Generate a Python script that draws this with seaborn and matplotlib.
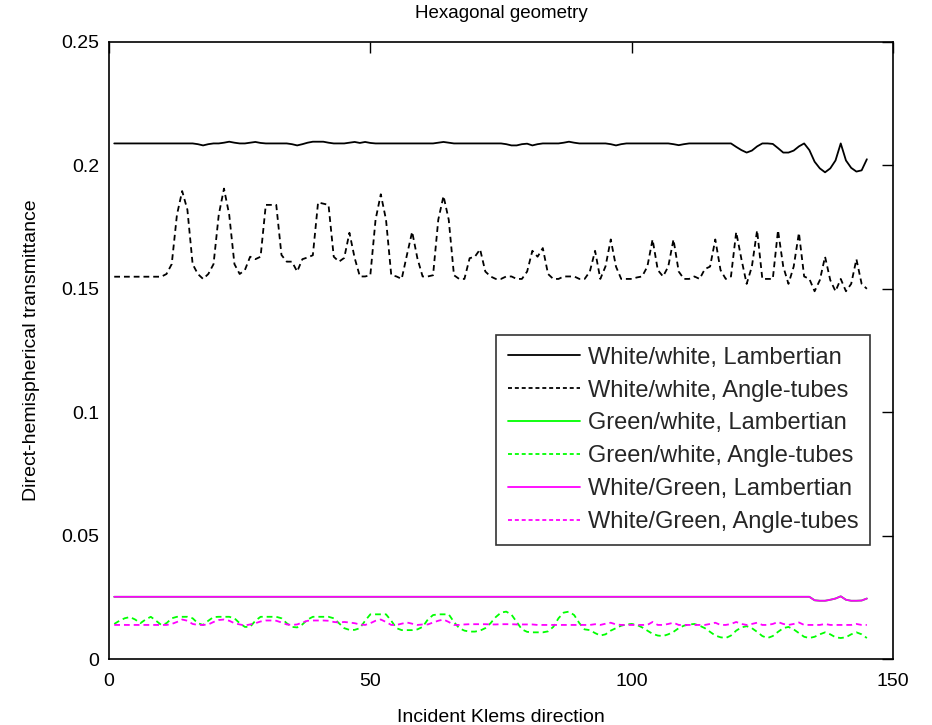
import numpy as np
import pandas as pd
import matplotlib
matplotlib.use("Agg")
import matplotlib.pyplot as plt
import seaborn as sns

# Klems incident directions 1..145
direction = list(range(1, 146))

# White/white, Lambertian
ww_lamb = [
    0.2089, 0.2089, 0.2089, 0.2089, 0.2089, 0.2089, 0.2089, 0.2089, 0.2089, 0.2089,
    0.2089, 0.2089, 0.2089, 0.2089, 0.2089, 0.2089, 0.2086, 0.2081, 0.2086, 0.2089,
    0.2089, 0.2092, 0.2096, 0.2092, 0.2089, 0.2089, 0.2092, 0.2095, 0.2091, 0.2089,
    0.2089, 0.2089, 0.2089, 0.2089, 0.2086, 0.2081, 0.2086, 0.2092, 0.2096, 0.2096,
    0.2096, 0.2092, 0.2089, 0.2089, 0.2089, 0.2092, 0.2095, 0.2091, 0.2095, 0.2091,
    0.2089, 0.2089, 0.2089, 0.2089, 0.2089, 0.2089, 0.2089, 0.2089, 0.2089, 0.2089,
    0.2089, 0.2089, 0.2092, 0.2095, 0.2092, 0.2089, 0.2089, 0.2089, 0.2089, 0.2089,
    0.2089, 0.2089, 0.2089, 0.2089, 0.2089, 0.2086, 0.2081, 0.2081, 0.2086, 0.2088,
    0.2081, 0.2086, 0.2089, 0.2089, 0.2089, 0.2089, 0.2092, 0.2096, 0.2092, 0.2089,
    0.2089, 0.2089, 0.2089, 0.2089, 0.2089, 0.2086, 0.2081, 0.2086, 0.2089, 0.2089,
    0.2089, 0.2089, 0.2089, 0.2089, 0.2089, 0.2089, 0.2089, 0.2086, 0.2082, 0.2086,
    0.2089, 0.2089, 0.2089, 0.2089, 0.2089, 0.2089, 0.2089, 0.2089, 0.2089, 0.2075,
    0.2062, 0.2052, 0.2060, 0.2077, 0.2089, 0.2089, 0.2087, 0.2070, 0.2052, 0.2052,
    0.2060, 0.2077, 0.2089, 0.2062, 0.2015, 0.1988, 0.1972, 0.1988, 0.2020, 0.2089,
    0.2020, 0.1990, 0.1975, 0.1980, 0.2025,
]

# White/white, Angle-tubes
ww_tube = [
    0.1549, 0.1549, 0.1549, 0.1549, 0.1549, 0.1549, 0.1549, 0.1549, 0.1549, 0.1549,
    0.1560, 0.1600, 0.1800, 0.1896, 0.1820, 0.1600, 0.1560, 0.1540, 0.1560, 0.1600,
    0.1800, 0.1906, 0.1800, 0.1600, 0.1560, 0.1576, 0.1630, 0.1620, 0.1630, 0.1840,
    0.1840, 0.1840, 0.1637, 0.1610, 0.1610, 0.1570, 0.1620, 0.1627, 0.1636, 0.1850,
    0.1845, 0.1840, 0.1630, 0.1610, 0.1625, 0.1727, 0.1625, 0.1550, 0.1550, 0.1555,
    0.1780, 0.1883, 0.1780, 0.1556, 0.1550, 0.1540, 0.1637, 0.1731, 0.1624, 0.1550,
    0.1550, 0.1555, 0.1780, 0.1876, 0.1780, 0.1555, 0.1540, 0.1540, 0.1624, 0.1630,
    0.1660, 0.1570, 0.1550, 0.1540, 0.1540, 0.1550, 0.1550, 0.1540, 0.1540, 0.1570,
    0.1654, 0.1630, 0.1665, 0.1560, 0.1540, 0.1540, 0.1550, 0.1550, 0.1550, 0.1540,
    0.1540, 0.1570, 0.1654, 0.1540, 0.1591, 0.1700, 0.1590, 0.1540, 0.1540, 0.1540,
    0.1546, 0.1550, 0.1590, 0.1700, 0.1576, 0.1550, 0.1590, 0.1700, 0.1570, 0.1540,
    0.1540, 0.1550, 0.1540, 0.1580, 0.1590, 0.1700, 0.1576, 0.1540, 0.1550, 0.1730,
    0.1620, 0.1520, 0.1590, 0.1737, 0.1540, 0.1540, 0.1540, 0.1737, 0.1590, 0.1520,
    0.1590, 0.1727, 0.1550, 0.1540, 0.1490, 0.1535, 0.1630, 0.1535, 0.1490, 0.1540,
    0.1490, 0.1520, 0.1620, 0.1520, 0.1500,
]

# White/Green, Lambertian
wg_lamb = [0.0252] * 133 + [
    0.0252, 0.0238, 0.0236, 0.0236, 0.0240, 0.0245, 0.0254,
    0.0240, 0.0236, 0.0236, 0.0237, 0.0245,
]

# Green/white, Lambertian (coincides with White/Green, Lambertian)
gw_lamb = list(wg_lamb)

# Green/white, Angle-tubes
gw_tube = [
    0.0142, 0.0155, 0.0165, 0.0170, 0.0160, 0.0145, 0.0160, 0.0171, 0.0155, 0.0138,
    0.0145, 0.0165, 0.0171, 0.0171, 0.0171, 0.0165, 0.0145, 0.0138, 0.0155, 0.0170,
    0.0171, 0.0171, 0.0171, 0.0165, 0.0145, 0.0130, 0.0130, 0.0155, 0.0171, 0.0171,
    0.0171, 0.0171, 0.0165, 0.0145, 0.0130, 0.0128, 0.0140, 0.0160, 0.0171, 0.0171,
    0.0171, 0.0171, 0.0165, 0.0145, 0.0125, 0.0118, 0.0118, 0.0125, 0.0155, 0.0181,
    0.0181, 0.0181, 0.0181, 0.0155, 0.0125, 0.0117, 0.0117, 0.0117, 0.0120, 0.0130,
    0.0160, 0.0178, 0.0181, 0.0181, 0.0181, 0.0150, 0.0125, 0.0115, 0.0111, 0.0111,
    0.0115, 0.0125, 0.0145, 0.0170, 0.0188, 0.0192, 0.0180, 0.0150, 0.0120, 0.0110,
    0.0108, 0.0108, 0.0108, 0.0112, 0.0130, 0.0165, 0.0188, 0.0192, 0.0178, 0.0145,
    0.0120, 0.0117, 0.0105, 0.0095, 0.0100, 0.0115, 0.0125, 0.0135, 0.0140, 0.0142,
    0.0138, 0.0128, 0.0115, 0.0102, 0.0095, 0.0093, 0.0100, 0.0110, 0.0125, 0.0135,
    0.0140, 0.0142, 0.0135, 0.0125, 0.0110, 0.0095, 0.0088, 0.0085, 0.0095, 0.0115,
    0.0128, 0.0133, 0.0125, 0.0110, 0.0093, 0.0085, 0.0093, 0.0110, 0.0125, 0.0130,
    0.0120, 0.0105, 0.0090, 0.0085, 0.0090, 0.0100, 0.0108, 0.0100, 0.0088, 0.0085,
    0.0088, 0.0100, 0.0108, 0.0100, 0.0085,
]

# White/Green, Angle-tubes
wg_tube = [
    0.0138, 0.0138, 0.0138, 0.0138, 0.0138, 0.0138, 0.0138, 0.0138, 0.0138, 0.0138,
    0.0138, 0.0142, 0.0150, 0.0160, 0.0155, 0.0142, 0.0138, 0.0138, 0.0140, 0.0150,
    0.0158, 0.0160, 0.0155, 0.0145, 0.0140, 0.0136, 0.0140, 0.0145, 0.0152, 0.0156,
    0.0156, 0.0155, 0.0148, 0.0140, 0.0138, 0.0140, 0.0148, 0.0155, 0.0156, 0.0156,
    0.0156, 0.0155, 0.0150, 0.0148, 0.0150, 0.0148, 0.0145, 0.0140, 0.0138, 0.0145,
    0.0155, 0.0160, 0.0150, 0.0138, 0.0138, 0.0143, 0.0148, 0.0143, 0.0138, 0.0140,
    0.0140, 0.0148, 0.0155, 0.0160, 0.0150, 0.0138, 0.0138, 0.0140, 0.0141, 0.0141,
    0.0141, 0.0141, 0.0140, 0.0140, 0.0141, 0.0141, 0.0141, 0.0140, 0.0140, 0.0140,
    0.0140, 0.0138, 0.0138, 0.0138, 0.0138, 0.0138, 0.0138, 0.0138, 0.0138, 0.0138,
    0.0138, 0.0138, 0.0141, 0.0138, 0.0143, 0.0147, 0.0140, 0.0138, 0.0138, 0.0138,
    0.0138, 0.0138, 0.0138, 0.0150, 0.0138, 0.0138, 0.0142, 0.0147, 0.0138, 0.0138,
    0.0138, 0.0138, 0.0138, 0.0138, 0.0142, 0.0147, 0.0138, 0.0138, 0.0142, 0.0150,
    0.0142, 0.0138, 0.0142, 0.0147, 0.0138, 0.0138, 0.0142, 0.0150, 0.0142, 0.0138,
    0.0142, 0.0148, 0.0138, 0.0138, 0.0138, 0.0138, 0.0142, 0.0138, 0.0138, 0.0138,
    0.0138, 0.0138, 0.0142, 0.0138, 0.0138,
]

series_names = [
    "White/white, Lambertian",
    "White/white, Angle-tubes",
    "Green/white, Lambertian",
    "Green/white, Angle-tubes",
    "White/Green, Lambertian",
    "White/Green, Angle-tubes",
]
series_values = [ww_lamb, ww_tube, gw_lamb, gw_tube, wg_lamb, wg_tube]
series_colors = ["#000000", "#000000", "#00ff00", "#00ff00", "#ff00ff", "#ff00ff"]
dash_short = (3.2, 2.2)
series_dashes = ["", dash_short, "", dash_short, "", dash_short]

df = pd.concat(
    [pd.DataFrame({"direction": direction, "value": vals, "series": name})
     for name, vals in zip(series_names, series_values)],
    ignore_index=True,
)

sns.set_theme(style="white")
plt.rcParams["font.family"] = ["Liberation Sans", "DejaVu Sans"]

fig = plt.figure(figsize=(9.32, 7.25), dpi=100)
ax = fig.add_axes([109 / 932, 66 / 725, 784 / 932, 617 / 725])

sns.lineplot(
    data=df, x="direction", y="value",
    hue="series", style="series",
    hue_order=series_names, style_order=series_names,
    palette=dict(zip(series_names, series_colors)),
    dashes=dict(zip(series_names, series_dashes)),
    linewidth=1.3, ax=ax, legend=False, sort=False,
)

ax.set_xlim(0, 150)
ax.set_ylim(0, 0.25)
ax.set_xticks([0, 50, 100, 150])
ax.set_xticklabels(["0", "50", "100", "150"])
ax.set_yticks([0, 0.05, 0.1, 0.15, 0.2, 0.25])
ax.set_yticklabels(["0", "0.05", "0.1", "0.15", "0.2", "0.25"])
ax.tick_params(direction="in", length=8, width=1, top=True, right=True,
               labelsize=14, colors="black")
ax.tick_params(axis="x", pad=10)
ax.tick_params(axis="y", pad=7)
for sp in ax.spines.values():
    sp.set_color("black")
    sp.set_linewidth(1.2)
ax.set_facecolor("white")
fig.patch.set_facecolor("white")

ax.set_xlabel("Incident Klems direction", fontsize=14, color="black", labelpad=14)
ax.set_ylabel("Direct-hemispherical transmittance", fontsize=14, color="black", labelpad=15.5)
ax.set_title("Hexagonal geometry", fontsize=13.5, color="black", pad=17)

handles = [
    plt.Line2D([], [], color=c, linewidth=1.3,
               linestyle="-" if d == "" else (0, (2.2, 1.6)))
    for c, d in zip(series_colors, series_dashes)
]
leg = ax.legend(
    handles, series_names, loc="lower right", bbox_to_anchor=(0.971, 0.185),
    borderaxespad=0, fontsize=17, frameon=True, fancybox=False,
    handlelength=3.05, handletextpad=0.34, labelspacing=0.46, borderpad=0.5,
)
leg.get_frame().set_edgecolor("black")
leg.get_frame().set_linewidth(1.2)

fig.savefig("out.png", dpi=100, facecolor="white")
